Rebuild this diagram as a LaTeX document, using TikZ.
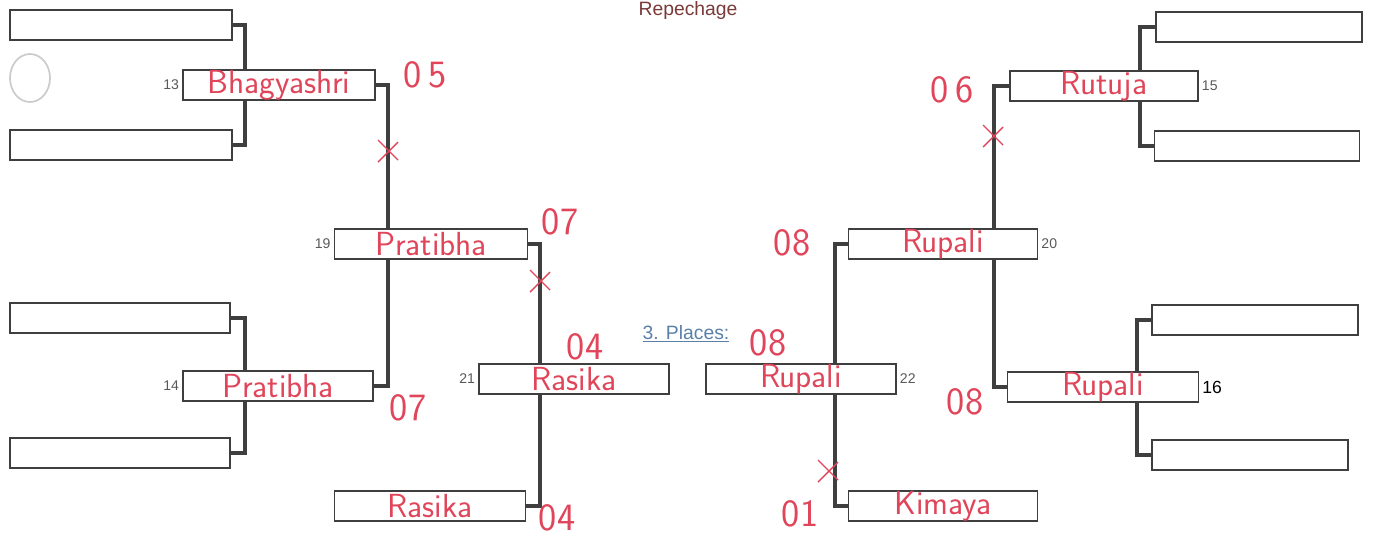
\documentclass[tikz,border=0pt]{standalone}
\usepackage{fontspec}
\usetikzlibrary{backgrounds}
\newfontfamily\labfont{Liberation Sans}
\definecolor{ink}{HTML}{E0455A}
\definecolor{wiregrey}{HTML}{3F3F3F}
\definecolor{titlered}{HTML}{7A3A3A}
\definecolor{placeblue}{HTML}{5A80AA}
\tikzset{
  slot/.style={draw=wiregrey, line width=1.1pt, fill=white, inner sep=0pt,
    minimum height=30*0.02cm, minimum width=#1*0.02cm,
    font=\sffamily\fontsize{19}{19}\selectfont, text=ink},
  wire/.style={draw=wiregrey, line width=2.3pt},
  seed/.style={font=\labfont\fontsize{8}{8}\selectfont, text=black!65, inner sep=1.5pt},
  score/.style={font=\sffamily\fontsize{22}{22}\selectfont, text=ink},
}
\begin{document}
\begin{tikzpicture}[x=0.02cm, y=-0.02cm]
    \useasboundingbox (0,0) rectangle (1375,539);

    % first round, left
    \node[slot=222] (l1) at (121,25) {};
    \node[slot=222] (l2) at (121,145) {};
    \node[slot=220] (l3) at (120,318) {};
    \node[slot=220] (l4) at (120,453) {};
    % first round, right
    \node[slot=206] (r1) at (1259,27) {};
    \node[slot=205] (r2) at (1257,146) {};
    \node[slot=206] (r3) at (1255,320) {};
    \node[slot=196] (r4) at (1250,455) {};

    % repechage boxes
    \node[slot=192] (b13) at (279,85) {Bhagyashri};
    \node[slot=190] (b14) at (278,386) {Pratibha};
    \node[slot=193] (b19) at (431,244) {Pratibha};
    \node[slot=190] (b21) at (574,379) {Rasika};
    \node[slot=191] (bras) at (430,506) {Rasika};
    \node[slot=190] (b22) at (801,379) {Rupali};
    \node[slot=189] (bkim) at (943,506) {Kimaya};
    \node[slot=189] (b20) at (943,244) {Rupali};
    \node[slot=188] (b15) at (1104,86) {Rutuja};
    \node[slot=191] (b16) at (1103,387) {Rupali};

    % seed numbers
    \node[seed, left] at (b13.west) {13};
    \node[seed, left] at (b14.west) {14};
    \node[seed, left] at (b19.west) {19};
    \node[seed, left] at (b21.west) {21};
    \node[seed, right] at (b22.east) {22};
    \node[seed, right] at (b20.east) {20};
    \node[seed, right] at (b15.east) {15};
    \node[seed, right, text=black, font=\labfont\fontsize{10}{10}\selectfont] at (b16.east) {16};

    % joints
    \coordinate (c13) at (245,85);
    \coordinate (c14) at (245,386);
    \coordinate (c19) at (388,244);
    \coordinate (c21) at (540,379);
    \coordinate (c22) at (835,379);
    \coordinate (c20) at (994,244);
    \coordinate (c15) at (1140,86);
    \coordinate (c16) at (1137,387);

    \begin{scope}[on background layer]
        \draw[wire] (l1.east) -| (c13) |- (l2.east);
        \draw[wire] (l3.east) -| (c14) |- (l4.east);
        \draw[wire] (b13.east) -| (c19) |- (b14.east);
        \draw[wire] (b19.east) -| (c21) |- (bras.east);
        \draw[wire] (b20.west) -| (c22) |- (bkim.west);
        \draw[wire] (b15.west) -| (c20) |- (b16.west);
        \draw[wire] (r1.west) -| (c15) |- (r2.west);
        \draw[wire] (r3.west) -| (c16) |- (r4.west);
    \end{scope}

    % titles
    \node[font=\labfont\fontsize{11}{11}\selectfont, text=titlered, anchor=north, inner sep=0.5pt] (title) at (688,0) {Repechage};
    \node[font=\labfont\fontsize{11}{11}\selectfont, text=placeblue] (places) at (686,334) {\underline{3. Places:}};

    % scores
    \node[score] (s13) at (425,75) {0\,5};
    \node[score] (s19) at (560,222) {07};
    \node[score] (s14) at (408,408) {07};
    \node[score] (s21) at (585,347) {04};
    \node[score] (sras) at (557,518) {04};
    \node[score] (s15) at (952,90) {0\,6};
    \node[score] (s20) at (792,243) {08};
    \node[score] (s22) at (768,343) {08};
    \node[score] (s16) at (965,402) {08};
    \node[score] (skim) at (800,514) {01};

    % crosses on the lines
    \foreach \cx/\cy in {388/150, 540/280, 993/135, 828/470}
        \draw[ink, line width=0.8pt] (\cx-10,\cy-10) -- (\cx+10,\cy+10)
            (\cx+10,\cy-8) -- (\cx-10,\cy+12);

    \draw[black!20, line width=1pt] (30,78) ellipse (20 and 24);
\end{tikzpicture}
\end{document}
